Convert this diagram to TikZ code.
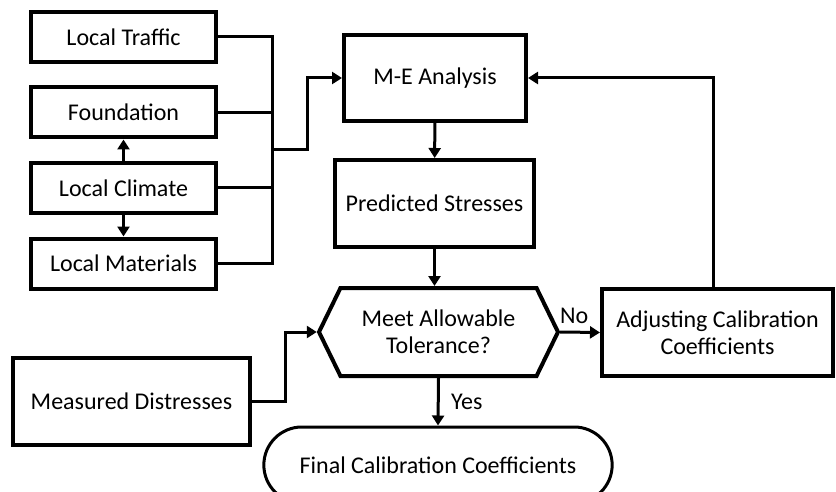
\documentclass[tikz,border=0pt]{standalone}
\usepackage{fontspec}
\setmainfont{Carlito}
\usetikzlibrary{positioning,shapes.misc,shapes.symbols,arrows.meta}

\begin{document}
\begin{tikzpicture}[
		  x=1pt,y=-1pt,
		  node distance=21.5pt and 0pt,
		  font=\fontsize{24}{27}\selectfont,
		  mybox/.style={draw,line width=4pt,minimum width=185pt,minimum height=50pt,align=center},
		  myhex/.style={draw,line width=4pt,signal,signal to=west and east,signal pointer angle=128,
		    minimum width=239pt,minimum height=88pt,align=center},
		  myend/.style={draw,line width=3pt,rounded rectangle,minimum width=355pt,minimum height=76pt},
		  arr/.style={line width=3pt,-{Triangle[length=10pt,width=12pt]}},
		  ln/.style={line width=3pt}
		]
		\useasboundingbox (0,0) rectangle (836,492);
		\node[mybox] (LT) at (123.5,37) {Local Traffic};
		\node[mybox,below=of LT] (Fd) {Foundation};
		\node[mybox,below=of Fd] (LC) {Local Climate};
		\node[mybox,below=of LC] (LM) {Local Materials};
		\node[mybox,minimum width=182pt,minimum height=86pt] (MEA) at (435,78) {M-E Analysis};
		\node[mybox,minimum width=199pt,minimum height=87pt] (PS) at (434.5,203.5) {Predicted Stresses};
		\node[myhex] (MAT) at (438.5,332) {Meet Allowable\\Tolerance?};
		\node[mybox,minimum width=231pt,minimum height=87pt] (ACC) at (717.5,332.5) {Adjusting Calibration\\Coefficients};
		\node[mybox,minimum width=237pt,minimum height=87pt] (MD) at (131.5,401.5) {Measured Distresses};
		\node[myend] (FCC) at (438,465) {Final Calibration Coefficients};
		% junction points
		\coordinate (bus) at (272,150);
		\coordinate (jog) at (307,150);
		\coordinate (mjog) at (285,332);
		\coordinate (fb) at (713,78);
		\draw[ln] (LT.east) -| (bus)
			(Fd.east) -| (bus)
			(LC.east) -| (bus)
			(LM.east) -| (bus);
		\draw[arr] (bus) -- (jog) |- (MEA.west);
		\draw[arr] (LC) -- (Fd);
		\draw[arr] (LC) -- (LM);
		\draw[arr] (MEA) -- (PS);
		\draw[arr] (PS.south) -- (PS.south |- MAT.north);
		\draw[arr] (MD.east) -| (mjog) -- (MAT.west);
		\draw[arr] (MAT.east) -- node[above=4pt,pos=0.35] (No) {No} (ACC.west);
		\draw[arr] (MAT.south) -- node[right=8pt] (Yes) {Yes} (FCC.north);
		\draw[arr] (ACC.north -| fb) |- (MEA.east);
		\end{tikzpicture}
\end{document}
